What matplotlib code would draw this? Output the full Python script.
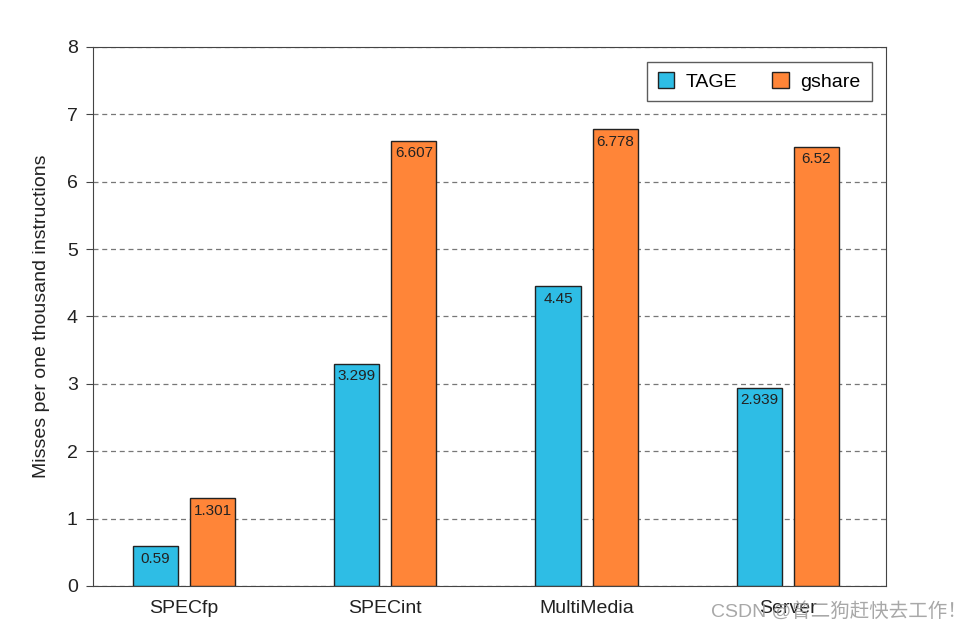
import numpy as np
import matplotlib
matplotlib.use("Agg")
import matplotlib.pyplot as plt

plt.rcParams['font.family'] = ['Liberation Sans', 'Noto Sans CJK SC', 'DejaVu Sans']

# benchmark groups and misses per kilo-instruction
categories = ['SPECfp', 'SPECint', 'MultiMedia', 'Server']
tage = [0.59, 3.299, 4.45, 2.939]
gshare = [1.301, 6.607, 6.778, 6.52]
tage_labels = ['0.59', '3.299', '4.45', '2.939']
gshare_labels = ['1.301', '6.607', '6.778', '6.52']

fig = plt.figure(figsize=(9.73, 6.29), dpi=100)
ax = fig.add_axes([0.0956, 0.0684, 0.815, 0.8569])

x = np.arange(len(categories))
w = 0.224
off = 0.142

b1 = ax.bar(x - off, tage, w, color='#2EBDE5', edgecolor='#222222', linewidth=1, label='TAGE', zorder=3)
b2 = ax.bar(x + off, gshare, w, color='#FF8538', edgecolor='#222222', linewidth=1, label='gshare', zorder=3)

# value labels tucked just under the top of each bar
for bars, labels in ((b1, tage_labels), (b2, gshare_labels)):
    for rect, lab in zip(bars, labels):
        ax.text(rect.get_x() + rect.get_width() / 2, rect.get_height() - 0.08, lab,
                ha='center', va='top', fontsize=11, color='#222222', zorder=4)

ax.set_xlim(-0.453, 3.488)
ax.set_ylim(0, 8)
ax.set_yticks(range(0, 9))
ax.set_xticks(x)
ax.set_xticklabels(categories, fontsize=14, color='#222222')
ax.tick_params(axis='y', labelsize=14, labelcolor='#222222', color='#444444', length=5, direction='out', pad=6)
ax.tick_params(axis='x', length=0, pad=10)
ax.yaxis.grid(True, linestyle=(0, (4, 3)), color='#777777', linewidth=0.9, zorder=0)
for s in ax.spines.values():
    s.set_color('#444444')
ax.set_ylabel('Misses per one thousand instructions', fontsize=14, color='#222222', labelpad=12)

leg = ax.legend(loc='upper right', ncol=2, fontsize=14, frameon=True, fancybox=False,
                edgecolor='#333333', borderpad=0.55, columnspacing=1.8, handlelength=0.85,
                handleheight=0.85, handletextpad=0.6, bbox_to_anchor=(0.994, 0.991))
leg.get_frame().set_linewidth(1)

fig.text(0.994, 0.013, 'CSDN @曾二狗赶快去工作！', ha='right', va='bottom', fontsize=14,
         color='#999999', alpha=0.85, family=['Liberation Sans', 'Noto Sans CJK SC'])

fig.savefig('out.png', dpi=100)
